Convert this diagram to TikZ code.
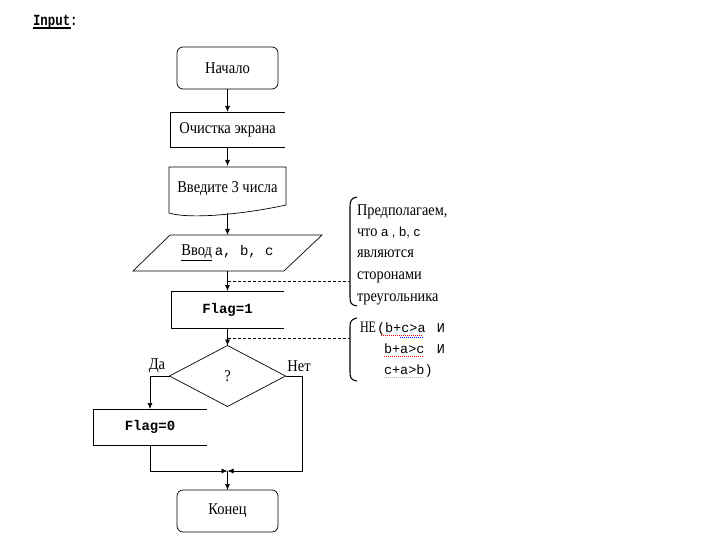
\documentclass[tikz,border=0pt]{standalone}
\usepackage{fontspec}
\setmainfont{Liberation Serif}[FakeStretch=0.88]
\setmonofont{Liberation Mono}
\newfontfamily\sansf{Liberation Sans}
\newfontfamily\mcond{Liberation Mono}[FakeStretch=0.8]
\newfontfamily\serifnarrow{Liberation Serif}[FakeStretch=0.75]
\usetikzlibrary{shapes.geometric,arrows.meta,calc}
\begin{document}
\begin{tikzpicture}[x=1pt,y=-1pt,
  every node/.style={inner sep=0pt, outer sep=0pt},
  ln/.style={draw=black, line width=0.7pt},
  arr/.style={ln, -{Latex[length=6pt,width=5pt]}},
  lbl/.style={font=\fontsize{16.5}{18}\selectfont},
  term/.style={ln, lbl, rounded corners=6pt, minimum width=101pt, minimum height=42pt},
  openbox/.style={lbl, minimum width=114pt, minimum height=36pt},
  mlbl/.style={font=\fontsize{14}{16}\selectfont\ttfamily\bfseries},
  note/.style={font=\fontsize{16.3}{18}\selectfont, anchor=base west},
  mnote/.style={font=\fontsize{15}{16}\selectfont, anchor=base west},
  br/.style={draw=black, line width=1.1pt},
  dsh/.style={draw=black, line width=0.6pt, dash pattern=on 3pt off 2pt},
  spell/.style={line width=0.8pt, dash pattern=on 1pt off 1pt}
]
\useasboundingbox (0,0) rectangle (720,540);

% title
\node[anchor=west, font=\fontsize{15.5}{17}\selectfont\mcond\bfseries] (title) at (33,22)
  {\rlap{\rule[-4pt]{38pt}{2pt}}Input:};

% flowchart nodes
\node[term] (start) at (227.5,68) {Начало};
\node[openbox, minimum height=35pt] (clear) at (227.5,129.5) {Очистка экрана};
\draw[ln] (clear.north east) -- (clear.north west) -- (clear.south west) -- (clear.south east);

\node[lbl, minimum width=117pt, minimum height=46pt] (doc) at (227.5,189) {Введите 3 числа};
\draw[ln] (169,213) -- (169,167) -- (286,167) -- (286,205)
   .. controls (250,213) and (192,220) .. (169,213);
\coordinate (docb) at (227.5,213.5);

\node[lbl, minimum width=115pt, minimum height=36pt] (io) at (227.5,253)
   {\underline{Ввод}\,{\ttfamily\fontsize{14}{16}\selectfont a, b, c}\hspace{10pt}};
\draw[ln] (170,235) -- (322,235) -- (284,271) -- (133,271) -- cycle;

\node[mlbl, minimum width=113pt, minimum height=37pt] (f1) at (227.5,309.5) {Flag=1};
\draw[ln] (f1.north east) -- (f1.north west) -- (f1.south west) -- (f1.south east);

\node[ln, diamond, lbl, minimum width=116pt, minimum height=61pt] (dia) at (227.5,376) {?};
\node[lbl] (da) at (157,366) {Да};
\node[lbl] (net) at (299,366) {Нет};

\node[mlbl, minimum width=113pt, minimum height=36pt] (f0) at (150,427) {Flag=0};
\draw[ln] (f0.north east) -- (f0.north west) -- (f0.south west) -- (f0.south east);

\node[term] (end) at (227.5,511) {Конец};

\coordinate (j) at (227.5,471);
\coordinate (r) at (302,471);

% connectors
\draw[arr] (start) -- (clear);
\draw[arr] (clear) -- (doc.north);
\draw[arr] (docb) -- (io.north);
\draw[arr] (io.south) -- (f1.north);
\draw[arr] (f1.south) -- (dia.north);
\draw[arr] (dia.west) -| (f0.north);
\draw[arr] (dia.east) -| (r) -- (j);
\draw[arr] (f0.south) |- (j);
\draw[arr] (j) -- (end.north);

% dashed leaders
\coordinate (d1) at (227.5,281);
\coordinate (b1) at (350,281);
\coordinate (d2) at (227.5,338);
\coordinate (b2) at (350,338);
\draw[dsh] (d1) -- (b1);
\draw[dsh] (d2) -- (b2);

% brackets
\draw[br] (357,197) .. controls (351,198) and (350,201) .. (350,207) -- (350,297)
   .. controls (350,303) and (351,305) .. (357,306);
\draw[br] (357,318) .. controls (351,319) and (350,322) .. (350,327) -- (350,372)
   .. controls (350,378) and (351,380) .. (357,381);

% note 1
\node[note] (n1) at (357,215) {Предполагаем,};
\node[note] (n2) at (357,236.5) {что {\sansf\fontsize{13}{14}\selectfont a , b, c}};
\node[note] (n3) at (357,258) {являются};
\node[note] (n4) at (357,279.5) {сторонами};
\node[note] (n5) at (357,301) {треугольника};

% note 2
\node[mnote] (c1) at (360,332) {\makebox[17pt][l]{\serifnarrow\fontsize{16}{16}\selectfont НЕ}\makebox[60pt][l]{\ttfamily\fontsize{13.5}{15}\selectfont(b+c>a}{\ttfamily\fontsize{13.5}{15}\selectfont И}};
\node[mnote] (c2) at (384,353) {\makebox[53pt][l]{\ttfamily\fontsize{13.5}{15}\selectfont b+a>c}{\ttfamily\fontsize{13.5}{15}\selectfont И}};
\node[mnote] (c3) at (384,374) {\ttfamily\fontsize{13.5}{15}\selectfont c+a>b)};

% spell-check underlines
\draw[spell, draw=red] (381,335.5) -- (423,335.5);
\draw[spell, draw=blue] (400,337) -- (423,337);
\draw[spell, draw=red] (384,356.5) -- (424,356.5);
\draw[spell, draw=gray!60] (384,377) -- (424,377);
\end{tikzpicture}
\end{document}
